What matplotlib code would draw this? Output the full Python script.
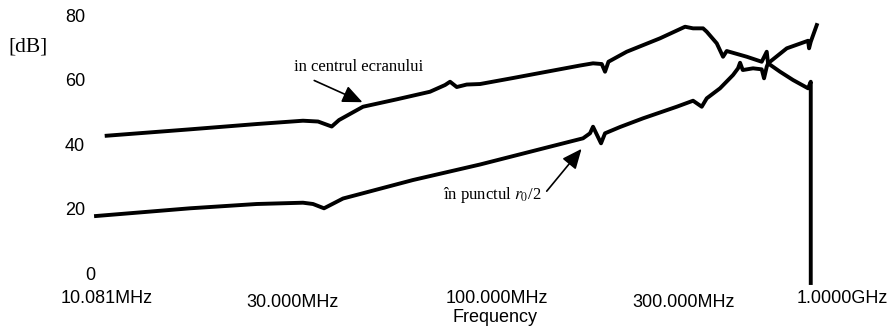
import matplotlib
matplotlib.use("Agg")
import matplotlib.pyplot as plt
import matplotlib.transforms as mtransforms

plt.rcParams['font.family'] = ['Liberation Sans', 'DejaVu Sans']
plt.rcParams['mathtext.fontset'] = 'stix'

# frequency in MHz, level in dB
f_centru = [10.06, 16.44, 24.34, 31.97, 34.93, 37.86, 39.53, 45.52, 55.52, 67.53,
            73.79, 76.00, 79.06, 83.85, 90.69, 110.1, 134.3, 163.4, 176.4, 185.7,
            189.3, 193.2, 215.1, 261.7, 303.3, 317.9, 337.2, 344.6, 365.5, 379.3,
            387.6, 436.1, 476.3, 490.6, 494.4, 530.6, 572.8, 625.8, 635.8, 635.8]
db_centru = [42.66, 44.64, 46.28, 47.31, 47.06, 45.51, 47.52, 51.64, 53.93, 56.28,
             58.36, 59.38, 57.74, 58.51, 58.67, 60.53, 62.48, 64.40, 65.08, 64.86,
             62.48, 65.57, 68.67, 72.82, 76.41, 75.91, 75.91, 74.86, 71.27, 67.12,
             68.89, 67.12, 65.57, 68.67, 65.08, 62.48, 59.91, 57.34, 59.38, -2.94]

f_punct = [9.449, 16.44, 24.34, 31.97, 33.91, 36.18, 40.47, 61.11, 90.69, 134.3,
           166.3, 173.3, 176.4, 180.6, 184.9, 189.3, 206.8, 236.8, 288.8, 317.9,
           334.6, 344.6, 372.6, 402.3, 414.3, 419.3, 426.0, 452.6, 476.3, 482.9,
           490.6, 494.4, 552.0, 625.8, 629.5, 635.8, 658.7]
db_punct = [17.80, 20.19, 21.52, 21.92, 21.52, 20.19, 23.22, 28.95, 33.75, 39.01,
            41.86, 43.41, 45.45, 42.88, 40.31, 43.41, 45.36, 48.05, 51.64, 53.50,
            51.64, 54.24, 57.34, 61.46, 63.53, 65.26, 63.00, 63.53, 63.22, 60.43,
            64.02, 65.08, 69.72, 72.07, 69.72, 71.76, 76.93]

x_ticks = [10.081, 30, 100, 300, 1000]
x_labels = ['10.081MHz', '30.000MHz', '100.000MHz', '300.000MHz', '1.0000GHz']
y_ticks = [0, 20, 40, 60, 80]

fig = plt.figure(figsize=(8.91, 3.26), dpi=100)
ax = fig.add_axes([90 / 891, 1 - 285 / 326, (888 - 90) / 891, (285 - 9) / 326])

ax.plot(f_centru, db_centru, color='black', lw=2.8, solid_joinstyle='round')
ax.plot(f_punct, db_punct, color='black', lw=2.8, solid_joinstyle='round')

ax.set_xscale('log')
ax.set_xlim(9.12, 1002)
ax.set_ylim(-3.56, 81.9)

for s in ax.spines.values():
    s.set_visible(False)

ax.set_xticks(x_ticks)
ax.set_xticklabels(x_labels)
ax.minorticks_off()
ax.set_yticks(y_ticks)
ax.tick_params(length=0, labelsize=13, pad=3.5)

# labels 30 and 300 sit a little lower, the last one is right aligned
for i, lab in enumerate(ax.get_xticklabels()):
    if i in (1, 3):
        lab.set_transform(lab.get_transform() +
                          mtransforms.ScaledTranslation(0, -4 / 100, fig.dpi_scale_trans))
    if i == 4:
        lab.set_horizontalalignment('right')
ylabs = ax.get_yticklabels()
ylabs[0].set_transform(ylabs[0].get_transform() +
                       mtransforms.ScaledTranslation(10 / 100, 0, fig.dpi_scale_trans))

fig.text(495 / 891, 1 - 317 / 326, 'Frequency', ha='center', va='center', fontsize=13)
fig.text(28 / 891, 1 - 47 / 326, '[dB]', ha='center', va='center', fontsize=15.5,
         family='Liberation Serif')

arrow = dict(arrowstyle='-|>,head_length=0.55,head_width=0.24', color='black',
             lw=1.2, mutation_scale=22)

ax.text(44.46, 64.09, 'in centrul ecranului', ha='center', va='center',
        fontsize=12, family='Liberation Serif')
ax.annotate('', xy=(46.06, 52.69), xytext=(33.65, 60.12), arrowprops=arrow)

ax.text(97.31, 24.30, 'în punctul $r_0$/2', ha='center', va='center',
        fontsize=12, family='Liberation Serif')
ax.annotate('', xy=(166.6, 39.26), xytext=(132.9, 24.83), arrowprops=arrow)

fig.savefig('out.png', dpi=100)
